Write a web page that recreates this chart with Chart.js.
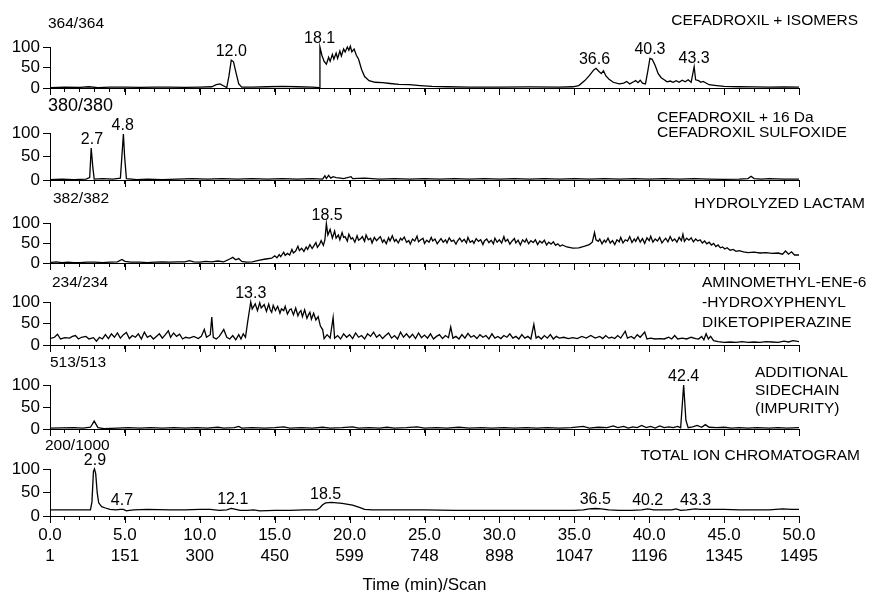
<!DOCTYPE html>
<html>
<head>
<meta charset="utf-8">
<script src="https://cdn.jsdelivr.net/npm/chart.js@4.4.1/dist/chart.umd.min.js"></script>
<style>
  html, body { margin: 0; background: #fff; overflow: hidden; }
  #wrap { position: relative; width: 872px; height: 592px; font-family: "Liberation Sans", Arial, sans-serif; color: #000; }
  #wrap canvas { position: absolute; left: 0; }
  .lbl { position: absolute; font-size: 15.5px; line-height: 18px; white-space: nowrap; z-index: 2; }
</style>
</head>
<body>
<div id="wrap">
  <div class="lbl" style="left:48px;top:14px">364/364</div>
  <div class="lbl" style="left:48px;top:95px;font-size:18px;line-height:20px">380/380</div>
  <div class="lbl" style="left:53px;top:189px">382/382</div>
  <div class="lbl" style="left:52px;top:273px">234/234</div>
  <div class="lbl" style="left:50px;top:353px">513/513</div>
  <div class="lbl" style="left:45px;top:436px">200/1000</div>

  <div class="lbl" style="right:14px;top:11px">CEFADROXIL + ISOMERS</div>
  <div class="lbl" style="left:657px;top:109px;line-height:15px">CEFADROXIL + 16 Da<br>CEFADROXIL SULFOXIDE</div>
  <div class="lbl" style="right:7px;top:194px">HYDROLYZED LACTAM</div>
  <div class="lbl" style="left:702px;top:272px;line-height:20px">AMINOMETHYL-ENE-6<br>-HYDROXYPHENYL<br>DIKETOPIPERAZINE</div>
  <div class="lbl" style="left:755px;top:363px">ADDITIONAL<br>SIDECHAIN<br>(IMPURITY)</div>
  <div class="lbl" style="right:12px;top:446px">TOTAL ION CHROMATOGRAM</div>

  <canvas id="c1"></canvas>
  <canvas id="c2"></canvas>
  <canvas id="c3"></canvas>
  <canvas id="c4"></canvas>
  <canvas id="c5"></canvas>
  <canvas id="c6"></canvas>
</div>

<script>
// axis labels
const timeLabels = [0, 5, 10, 15, 20, 25, 30, 35, 40, 45, 50];
const scanLabels = [1, 151, 300, 450, 599, 748, 898, 1047, 1196, 1345, 1495];

// [time (min), relative abundance %]
const isomers = [[0,1],[1,2],[2,1.5],[2.6,3],[3.2,1],[4,2],[5,2],[6,1.5],[7,2],[8,2],[9,1.5],[10,2],[10.8,3],[11.1,8],[11.35,10],[11.6,5],[11.8,1],[11.95,30],[12.1,68],[12.25,64],[12.4,40],[12.6,10],[12.8,2],[13.5,2],[14.5,3],[15.5,4],[16.5,3],[17.5,2],[18.0,1],[18.02,100],[18.15,80],[18.3,65],[18.45,58],[18.6,75],[18.7,65],[18.85,82],[18.95,70],[19.1,85],[19.2,72],[19.35,90],[19.45,78],[19.6,95],[19.7,88],[19.85,100],[19.95,92],[20.05,102],[20.15,88],[20.3,95],[20.45,80],[20.6,70],[20.8,45],[21.0,28],[21.3,18],[21.7,14],[22.2,13],[22.7,11],[23.3,9],[24,8],[24.7,6],[25.5,4],[26.5,3],[28,2],[30,2],[32,2.5],[34,2],[34.9,3],[35.3,6],[35.7,18],[36.0,30],[36.3,44],[36.45,48],[36.6,42],[36.8,35],[36.95,42],[37.1,30],[37.3,22],[37.6,14],[38,10],[38.3,12],[38.5,16],[38.7,10],[38.9,14],[39.1,18],[39.25,13],[39.4,19],[39.55,12],[39.75,10],[39.9,40],[40.05,72],[40.2,70],[40.4,55],[40.6,35],[40.8,25],[41.0,20],[41.2,15],[41.4,17],[41.6,14],[41.8,18],[42.0,14],[42.2,19],[42.4,15],[42.6,20],[42.8,14],[43.0,52],[43.1,20],[43.3,18],[43.45,14],[43.6,16],[44,8],[44.5,6],[45,4],[46,3],[47,2.5],[48,2],[49,2.5],[50,2]];

const sulfoxide = [[0,1],[0.8,2],[1.6,1],[2.4,2],[2.65,5],[2.75,68],[2.85,30],[2.95,2],[3.5,3],[4.2,2],[4.7,4],[4.82,60],[4.9,98],[4.98,50],[5.1,3],[5.8,1],[6.5,2],[7.5,1],[8.5,2],[9.5,3],[10.5,2],[11.5,3],[12.5,2],[13.5,3],[14.5,2],[15.5,3],[16.5,2],[17.5,3],[18.2,2],[18.35,9],[18.45,3],[18.6,10],[18.75,4],[18.9,7],[19.1,5],[19.4,4],[19.6,3],[20.1,7],[20.2,3],[21,4],[22,2],[23,3],[24,2],[25,3],[26,2],[27,3],[28,2],[29,3],[30,2],[31,3],[32,2],[33,3],[34,2],[35,3],[36,2],[37,3],[38,2],[39,3],[40,2],[41,3],[42,2],[43,3],[44,2],[45,1.5],[46,2],[46.6,3],[46.8,8],[47.0,3],[47.5,2],[48,3],[49,2],[50,2]];

const lactam = [[0,1],[0.4,3],[0.8,1],[1.2,2],[1.6,1],[2,1],[2.5,2],[3,2],[3.5,1],[4,2],[4.5,3],[4.8,9],[5.0,4],[5.4,2],[6,2],[6.5,1],[7,2],[7.5,3],[8,2],[8.5,3],[9,3],[9.3,6],[9.6,3],[10,2],[10.4,4],[10.8,3],[11.2,5],[11.6,3],[12,10],[12.2,14],[12.4,8],[12.6,11],[12.8,4],[13.1,2],[13.5,3],[14,7],[14.4,10],[14.8,12],
  [15.0,18],[15.15,13],[15.3,21],[15.4,16],[15.6,27],[15.7,19],[15.85,24],[16.0,20],[16.15,34],[16.25,25],[16.4,30],[16.55,42],[16.65,31],[16.8,37],[16.95,29],[17.1,40],[17.2,34],[17.35,46],[17.5,36],[17.6,42],[17.75,51],[17.85,39],[18.0,47],[18.1,56],[18.25,44],[18.35,58],[18.45,98],[18.55,70],[18.7,84],[18.85,62],
  [19.0,80],[19.1,62],[19.25,70],[19.35,58],[19.5,76],[19.6,64],[19.7,66],[19.85,55],[19.95,72],[20.1,60],[20.2,63],[20.35,52],[20.5,68],[20.6,57],[20.75,61],[20.85,66],[21.0,54],[21.1,70],[21.25,58],[21.4,62],[21.5,50],[21.65,64],[21.8,56],[21.9,60],[22.05,66],[22.2,52],[22.3,58],[22.45,48],[22.6,63],[22.7,55],[22.85,68],[23.0,54],[23.1,59],[23.25,50],[23.4,62],[23.5,57],[23.65,65],[23.8,52],[23.95,56],[24.05,47],[24.2,60],[24.35,55],[24.5,67],[24.6,53],[24.75,58],[24.9,62],[25.0,49],[25.15,57],[25.3,52],[25.45,64],[25.55,55],[25.7,60],[25.85,48],[26.0,56],[26.1,61],[26.25,52],[26.4,58],[26.5,50],[26.65,63],[26.8,54],[26.95,57],[27.1,47],[27.2,55],[27.35,62],[27.5,53],[27.65,59],[27.8,50],[27.9,64],[28.05,52],[28.2,56],[28.3,49],[28.45,61],[28.6,54],[28.75,58],[28.9,46],[29.0,55],[29.15,60],[29.3,51],[29.45,57],[29.6,48],[29.7,62],[29.85,52],[30.0,58],[30.15,50],[30.3,66],[30.4,54],[30.55,59],[30.7,47],[30.85,55],[31.0,61],[31.1,50],[31.25,57],[31.4,45],[31.55,58],[31.7,52],[31.8,60],[31.95,48],[32.1,56],[32.25,51],[32.4,58],[32.55,46],[32.7,55],[32.85,50],[33.0,57],[33.15,45],[33.3,52],[33.45,47],[33.6,53],[33.75,44],[33.9,48],[34.05,42],[34.2,45],
  [34.5,40],[34.9,37],[35.3,38],[35.7,42],[36.0,46],[36.2,52],[36.35,76],[36.45,58],[36.6,54],[36.7,60],[36.85,48],[37.0,57],[37.1,52],[37.25,62],[37.4,50],[37.55,56],[37.7,46],[37.85,58],[38.0,53],[38.1,64],[38.25,50],[38.4,58],[38.55,55],[38.7,66],[38.85,51],[39.0,60],[39.1,54],[39.25,65],[39.4,52],[39.55,61],[39.7,49],[39.85,63],[40.0,56],[40.1,67],[40.25,52],[40.4,60],[40.55,55],[40.7,64],[40.85,50],[41.0,58],[41.1,62],[41.25,53],[41.4,66],[41.55,55],[41.7,60],[41.85,52],[42.0,64],[42.15,56],[42.25,72],[42.35,54],[42.5,62],[42.65,57],[42.8,63],[42.95,53],[43.1,60],[43.25,55],[43.4,58],[43.55,50],[43.7,55],[43.85,48],[44.0,52],[44.15,45],[44.3,49],[44.45,41],[44.6,45],[44.75,38],[44.9,40],[45.05,35],[45.2,38],[45.4,32],[45.6,34],[45.8,29],[46.0,31],[46.3,28],[46.6,26],[47.0,27],[47.4,25],[47.8,26],[48.2,24],[48.6,25],[48.9,22],[49.1,30],[49.3,22],[49.5,28],[49.7,20],[50,20]];

const diketopiperazine = [[0,15],[0.3,18],[0.5,25],[0.7,14],[1.0,17],[1.3,16],[1.5,20],[1.7,22],[1.9,14],[2.1,18],[2.4,20],[2.6,14],[2.9,17],[3.1,9],[3.3,18],[3.5,14],[3.7,24],[3.9,15],[4.1,26],[4.3,18],[4.5,28],[4.7,16],[4.9,24],[5.1,29],[5.3,15],[5.5,22],[5.7,18],[5.9,26],[6.1,14],[6.3,30],[6.5,18],[6.7,22],[6.9,14],[7.1,20],[7.3,26],[7.5,16],[7.7,24],[7.9,33],[8.05,18],[8.25,28],[8.45,20],[8.65,25],[8.85,14],[9.05,18],[9.3,16],[9.6,20],[9.9,15],[10.1,20],[10.3,36],[10.45,18],[10.7,24],[10.8,65],[10.9,18],[11.1,14],[11.3,20],[11.6,36],[11.8,18],[12.0,14],[12.2,22],[12.4,12],[12.6,24],[12.75,14],[12.9,26],[13.05,18],[13.2,55],
  [13.4,100],[13.5,84],[13.6,90],[13.7,96],[13.85,80],[14.0,98],[14.1,86],[14.2,90],[14.3,94],[14.45,78],[14.6,95],[14.7,82],[14.8,76],[14.9,92],[15.05,80],[15.2,90],[15.35,74],[15.45,84],[15.6,80],[15.7,90],[15.85,72],[16.0,82],[16.1,84],[16.25,70],[16.4,86],[16.55,68],[16.65,76],[16.75,80],[16.85,66],[17.0,82],[17.15,62],[17.25,70],[17.35,76],[17.45,60],[17.6,74],[17.75,58],[17.9,66],[18.05,44],[18.2,36],[18.3,15],[18.5,24],[18.7,16],[18.9,64],[19.0,16],
  [19.2,22],[19.4,14],[19.6,26],[19.8,18],[20.0,24],[20.2,15],[20.4,28],[20.6,18],[20.8,22],[21.0,14],[21.2,26],[21.4,20],[21.6,30],[21.8,18],[22.0,24],[22.2,15],[22.4,22],[22.6,28],[22.8,16],[23.0,22],[23.2,14],[23.4,30],[23.6,18],[23.8,26],[24.0,17],[24.2,25],[24.4,15],[24.6,28],[24.8,17],[25.0,23],[25.2,16],[25.4,26],[25.6,14],[25.8,20],[26.0,24],[26.2,15],[26.4,22],[26.6,17],[26.75,42],[26.9,16],[27.1,20],[27.3,14],[27.5,24],[27.7,16],[27.9,27],[28.1,18],[28.3,22],[28.5,15],[28.7,24],[28.9,18],[29.1,22],[29.3,14],[29.5,26],[29.7,16],[29.9,20],[30.1,15],[30.3,22],[30.5,18],[30.7,26],[30.9,16],[31.1,20],[31.3,14],[31.5,24],[31.7,16],[31.9,20],[32.1,14],[32.3,48],[32.45,16],[32.6,20],[32.8,14],[33.0,22],[33.2,16],[33.4,24],[33.6,14],[33.8,20],[34.0,16],[34.3,18],[34.6,15],[34.9,17],[35.2,15],[35.5,20],[35.8,16],[36.1,22],[36.4,16],[36.7,20],[36.9,15],[37.1,22],[37.3,16],[37.5,18],[37.7,15],[37.9,22],[38.1,16],[38.4,32],[38.55,16],[38.8,20],[39.0,15],[39.2,24],[39.4,18],[39.7,30],[39.85,14],[40.1,16],[40.4,14],[40.7,15],[41.0,14],[41.3,18],[41.5,14],[41.7,22],[41.9,14],[42.2,16],[42.5,14],[42.8,18],[43.1,15],[43.3,14],[43.5,20],[43.65,12],[43.8,26],[43.95,14],[44.1,20],[44.3,10],[44.6,8],[45.0,6],[45.4,7],[45.8,6],[46.2,8],[46.6,6],[47.0,7],[47.4,6],[47.8,8],[48.2,7],[48.6,6],[49.0,9],[49.3,7],[49.6,10],[50,8]];

const sidechain = [[0,2],[0.8,2.5],[1.6,3],[2.2,2],[2.7,4],[2.95,18],[3.2,3],[3.6,1],[4.5,2],[5.2,3],[6,2],[6.7,3],[7.5,2],[8.3,3],[9,2],[9.8,3],[10.5,2],[11.2,4],[11.6,2],[12.3,3],[12.6,6],[12.8,2],[13.5,3],[14.3,2],[15,3],[15.6,5],[16,2],[16.8,3],[17.5,2],[18.2,4],[18.7,2],[19.5,3],[20.2,5],[20.6,2],[21.3,3],[22,2],[22.5,4],[23,2],[23.8,3],[24.5,5],[25,2],[25.8,3],[26.5,2],[27.3,4],[28,2],[28.8,3],[29.5,2],[30.3,3],[31,2],[31.8,3],[32.5,2],[33.2,3],[34,2],[34.8,3],[35.6,6],[36,2],[36.6,4],[37.2,3],[37.6,7],[37.9,3],[38.3,6],[38.6,2],[38.9,5],[39.2,3],[39.5,8],[39.8,3],[40.1,6],[40.4,2],[40.7,7],[41,3],[41.3,5],[41.6,3],[41.9,6],[42.1,3],[42.3,100],[42.45,20],[42.6,3],[42.9,5],[43.2,8],[43.5,4],[43.75,10],[44,4],[44.5,3],[45,4],[45.5,2],[46,3],[46.6,2],[47.2,3],[48,2],[48.6,3],[49.2,2],[50,3]];

const totalIon = [[0,13],[1,13],[2,13],[2.7,13],[2.8,30],[2.9,95],[2.97,100],[3.05,90],[3.15,50],[3.25,28],[3.45,20],[3.7,17],[4.0,14],[4.4,13],[4.7,14],[4.9,14],[5.1,11],[5.3,12],[5.6,13],[6.5,14],[8,13],[9,13],[10,14],[10.7,14],[11.3,12],[11.8,13],[12.1,16],[12.4,14],[12.7,12],[13.2,12],[13.6,13],[14,11],[15,12],[16,12],[17,13],[17.8,13],[18.0,17],[18.2,24],[18.4,28],[18.8,29],[19.5,27],[20.2,23],[20.7,18],[21.0,14],[21.5,13],[23,13],[25,13],[27,12],[30,12],[33,12],[35,12],[35.6,13],[36.0,15],[36.4,16],[36.8,15],[37.3,13],[38,12],[38.8,12],[39.5,13],[39.9,15],[40.3,13],[41,13],[41.5,13],[41.8,15],[42.1,12],[42.5,13],[43.1,15],[43.4,14],[44,14],[45,14],[46,13],[47,13],[48,13],[48.9,15],[49.5,14],[50,14]];

// peak annotations: apex time, printed text
const isomerPeaks = [12.1, 18.0, 36.35, 40.05, 43.0];
const isomerPeakText = ['12.0', '18.1', '36.6', '40.3', '43.3'];
const sulfoxidePeaks = [2.8, 4.85];
const sulfoxidePeakText = ['2.7', '4.8'];
const lactamPeaks = [18.5];
const lactamPeakText = ['18.5'];
const dkpPeaks = [13.4];
const dkpPeakText = ['13.3'];
const sidechainPeaks = [42.3];
const sidechainPeakText = ['42.4'];
const ticPeaks = [3.0, 4.8, 12.2, 18.4, 36.4, 39.9, 43.1];
const ticPeakText = ['2.9', '4.7', '12.1', '18.5', '36.5', '40.2', '43.3'];

const FONT = '"Liberation Sans", Arial, sans-serif';

const peakLabels = {
  id: 'peakLabels',
  afterDatasetsDraw(chart, args, opts) {
    const { ctx } = chart;
    const x = chart.scales.x, y = chart.scales.y;
    const pts = chart.data.datasets[0].data;
    ctx.save();
    ctx.font = '16px ' + FONT;
    ctx.fillStyle = '#000';
    ctx.textAlign = 'center';
    ctx.textBaseline = 'alphabetic';
    opts.at.forEach((t, i) => {
      let top = 0;
      pts.forEach(p => { if (Math.abs(p.x - t) <= 0.35 && p.y > top) top = p.y; });
      ctx.fillText(opts.text[i], x.getPixelForValue(t), y.getPixelForValue(top) - 4);
    });
    ctx.restore();
  }
};

// longer tick marks every 5 min
const majorTicks = {
  id: 'majorTicks',
  afterDraw(chart) {
    const { ctx } = chart;
    const x = chart.scales.x;
    ctx.save();
    ctx.strokeStyle = '#000';
    ctx.lineWidth = 1;
    ctx.beginPath();
    timeLabels.forEach(t => {
      const px = Math.round(x.getPixelForValue(t)) + 0.5;
      ctx.moveTo(px, x.top);
      ctx.lineTo(px, x.top + 7);
    });
    ctx.stroke();
    ctx.restore();
  }
};

function makePanel(id, series, top, bottom, peaks, peakText, last) {
  const padTop = 24;
  const xh = last ? 78 : 12;
  const canvas = document.getElementById(id);
  canvas.style.top = (top - padTop) + 'px';
  canvas.style.width = '872px';
  canvas.style.height = (padTop + (bottom - top) + xh) + 'px';

  new Chart(canvas, {
    type: 'line',
    data: {
      datasets: [{
        data: series.map(p => ({ x: p[0], y: p[1] })),
        borderColor: '#000',
        borderWidth: 1.3,
        pointRadius: 0,
        tension: 0,
        fill: false,
        clip: 6
      }]
    },
    options: {
      responsive: false,
      animation: false,
      events: [],
      layout: { padding: { top: padTop, right: 73, left: 0, bottom: 0 } },
      plugins: {
        legend: { display: false },
        tooltip: { enabled: false },
        peakLabels: { at: peaks, text: peakText }
      },
      scales: {
        x: {
          type: 'linear',
          min: 0,
          max: 50,
          afterFit(s) { s.height = xh; },
          border: { display: true, color: '#000', width: 1 },
          grid: { display: true, drawOnChartArea: false, drawTicks: true, tickLength: 4, tickColor: '#000', color: '#000' },
          ticks: {
            stepSize: 1,
            autoSkip: false,
            maxRotation: 0,
            padding: 5,
            color: '#000',
            font: { family: FONT, size: 17, lineHeight: 21 / 17 },
            callback(v) {
              if (!last) return '';
              const i = timeLabels.indexOf(v);
              return i < 0 ? '' : [v.toFixed(1), String(scanLabels[i])];
            }
          },
          title: {
            display: last,
            text: 'Time (min)/Scan',
            color: '#000',
            font: { family: FONT, size: 17, lineHeight: 1 },
            padding: { top: 0, bottom: 0 }
          }
        },
        y: {
          min: 0,
          max: 100,
          afterFit(s) { s.width = 50; },
          border: { display: true, color: '#000', width: 1 },
          grid: { display: true, drawOnChartArea: false, drawTicks: true, tickLength: 7, tickColor: '#000', color: '#000' },
          ticks: {
            stepSize: 50,
            padding: 3,
            color: '#000',
            font: { family: FONT, size: 17, lineHeight: 1 }
          }
        }
      }
    },
    plugins: [peakLabels, majorTicks]
  });
}

makePanel('c1', isomers, 47, 88, isomerPeaks, isomerPeakText, false);
makePanel('c2', sulfoxide, 133, 180, sulfoxidePeaks, sulfoxidePeakText, false);
makePanel('c3', lactam, 223, 263, lactamPeaks, lactamPeakText, false);
makePanel('c4', diketopiperazine, 302, 345, dkpPeaks, dkpPeakText, false);
makePanel('c5', sidechain, 385, 429, sidechainPeaks, sidechainPeakText, false);
makePanel('c6', totalIon, 469, 516, ticPeaks, ticPeakText, true);
</script>
</body>
</html>
